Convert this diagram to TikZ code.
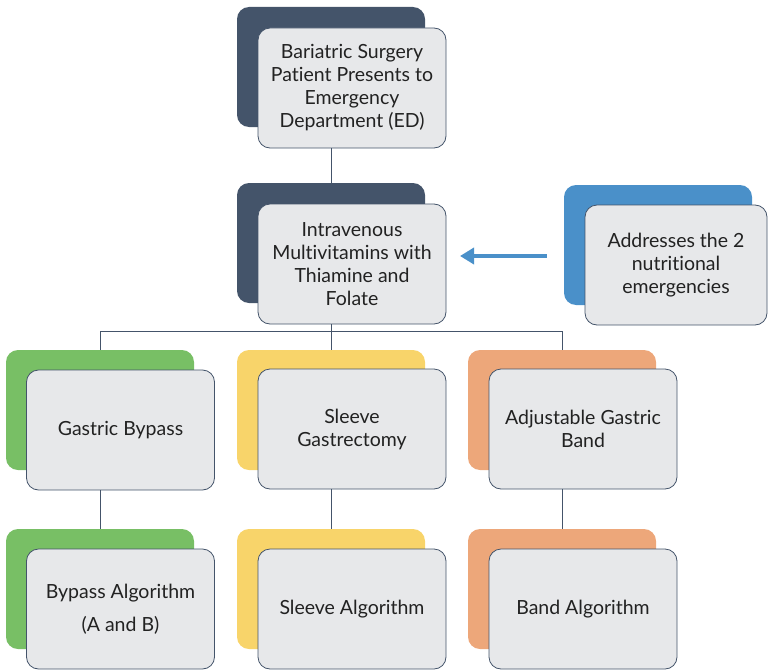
\documentclass[tikz,border=0pt]{standalone}
\usepackage{fontspec}
\setmainfont{Lato}[Ligatures={NoCommon}]
\usetikzlibrary{arrows.meta}
\definecolor{navy}{HTML}{44546A}
\definecolor{skyblue}{HTML}{4A90C9}
\definecolor{leaf}{HTML}{78BF65}
\definecolor{sun}{HTML}{F8D46A}
\definecolor{peach}{HTML}{EDA77A}
\definecolor{card}{HTML}{E7E8EA}
\definecolor{ink}{HTML}{222222}
\definecolor{wire}{HTML}{44546A}
\tikzset{
  backcard/.style={fill=#1, draw=none, rounded corners=12pt,
    minimum width=188pt, minimum height=120pt, inner sep=0pt},
  frontcard/.style={fill=card, draw=navy, line width=0.8pt, rounded corners=12pt,
    minimum width=188pt, minimum height=120pt, inner sep=2pt, align=center,
    text=ink, font=\fontsize{19.5}{23}\selectfont},
  link/.style={draw=wire, line width=0.9pt},
}
\begin{document}
\begin{tikzpicture}[x=1pt, y=-1pt]
\useasboundingbox (0,0) rectangle (768,669);
% back cards
\node[backcard=navy]  (b1) at (331,67)  {};
\node[backcard=navy]  (b2) at (331,243) {};
\node[backcard=skyblue, minimum width=188pt] (b3) at (658,245) {};
\node[backcard=leaf]  (b4) at (100,410) {};
\node[backcard=sun]   (b5) at (331,410) {};
\node[backcard=peach] (b6) at (562,410) {};
\node[backcard=leaf]  (b7) at (100,589) {};
\node[backcard=sun]   (b8) at (331,589) {};
\node[backcard=peach] (b9) at (562,589) {};
% front cards
\node[frontcard] (f1) at (352,88) {Bariatric Surgery\\Patient Presents to\\Emergency\\Department (ED)};
\node[frontcard] (f2) at (352,264) {Intravenous\\Multivitamins with\\Thiamine and\\Folate};
\node[frontcard, minimum width=182pt] (f3) at (676,265) {Addresses the 2\\nutritional\\emergencies};
\node[frontcard] (f4) at (120.5,430) {Gastric Bypass};
\node[frontcard] (f5) at (352,429) {Sleeve\\Gastrectomy};
\node[frontcard] (f6) at (583,429) {Adjustable Gastric\\Band};
\node[frontcard, font=\fontsize{19.5}{33}\selectfont] (f7) at (120.5,609) {Bypass Algorithm\\(A and B)};
\node[frontcard] (f8) at (352,609) {Sleeve Algorithm};
\node[frontcard] (f9) at (583,609) {Band Algorithm};
% connectors
\coordinate (bus) at (331,331);
\draw[link] (f1.south -| b1.south) -- (b2.north);
\draw[link] (f2.south -| b2.south) -- (bus);
\draw[link] (bus -| b4.north) -- (bus -| b6.north);
\draw[link] (bus -| b4.north) -- (b4.north);
\draw[link] (bus) -- (b5.north);
\draw[link] (bus -| b6.north) -- (b6.north);
\draw[link] (f4.south -| b4.south) -- (b7.north);
\draw[link] (f5.south -| b5.south) -- (b8.north);
\draw[link] (f6.south -| b6.south) -- (b9.north);
% arrow from the note to the vitamins card
\coordinate (tip) at (460,256);
\draw[skyblue, line width=4pt, -{Triangle[length=14pt,width=16pt]}] (b3.west |- tip) ++(-17,0) -- (tip);
\end{tikzpicture}
\end{document}
